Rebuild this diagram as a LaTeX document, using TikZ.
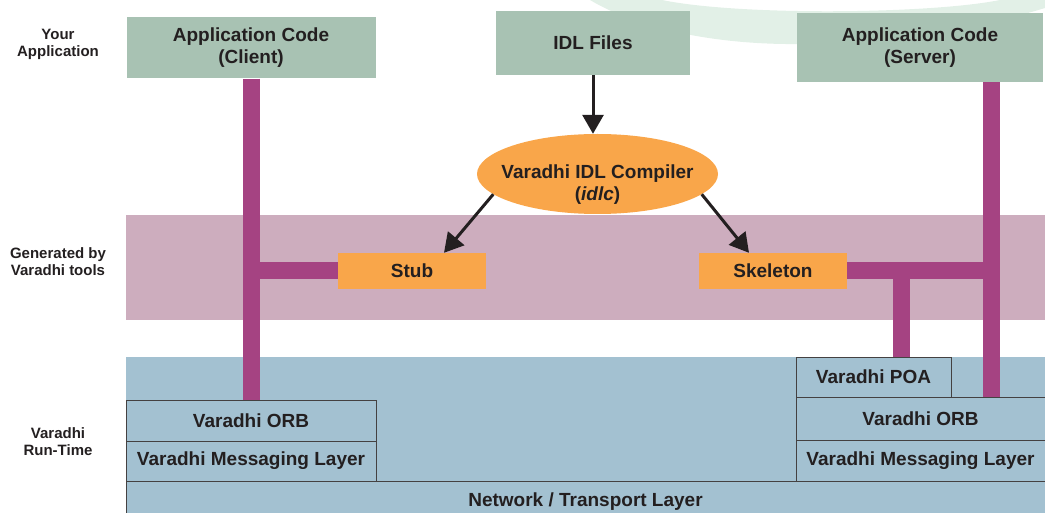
\documentclass[tikz,border=0pt]{standalone}
\usepackage{fontspec}
\setmainfont{Liberation Sans}
\usetikzlibrary{shapes.geometric,arrows.meta,positioning}

\definecolor{appgreen}{RGB}{168,194,179}
\definecolor{genorange}{RGB}{249,166,74}
\definecolor{genpink}{RGB}{205,173,190}
\definecolor{rtblue}{RGB}{163,193,209}
\definecolor{barpurple}{RGB}{165,67,130}
\definecolor{swoosh}{RGB}{226,240,231}
\definecolor{ink}{RGB}{35,31,32}

\tikzset{
 box/.style={inner sep=0pt,align=center,text=ink,font=\fontsize{19}{22}\selectfont\bfseries},
 appbox/.style={box,fill=appgreen},
 genbox/.style={box,fill=genorange},
 rtbox/.style={box,fill=rtblue,draw=ink!85,line width=1pt},
 sidelabel/.style={align=center,text=ink,font=\fontsize{15}{17}\selectfont\bfseries},
 bar/.style={draw=barpurple,line width=17pt},
 arr/.style={draw=ink,line width=3pt,-{Triangle[width=21pt,length=19pt]}}
}

\begin{document}
\begin{tikzpicture}[x=1pt,y=-1pt]
 \useasboundingbox (0,0) rectangle (1045,513);
 % background
 \fill[swoosh] (590,0) .. controls (640,30) and (720,45) .. (800,44)
  .. controls (900,43) and (990,25) .. (1045,8) -- (1045,0) -- (1000,0)
  .. controls (930,14) and (740,16) .. (662,0) -- cycle;
 \fill[genpink] (126,215) rectangle (1045,320);
 \fill[rtblue] (126,357) rectangle (1045,513);

 % side labels
 \node (lapp) at (58,44) [sidelabel] {Your\\Application};
 \node (lgen) at (58,262) [sidelabel] {Generated by\\Varadhi tools};
 \node (lrt) at (58,442) [sidelabel] {Varadhi\\Run-Time};

 % application layer
 \node (appclient) at (251,48) [appbox,minimum width=249pt,minimum height=61pt] {Application Code\\(Client)};
 \node (idl) at (593,43) [appbox,minimum width=194pt,minimum height=64pt] {IDL Files};
 \node (appserver) at (920,47.5) [appbox,minimum width=246pt,minimum height=69pt] {Application Code\\(Server)};

 % generated layer
 \node (idlc) at (597.5,174) [genbox,ellipse,inner xsep=-16pt,inner ysep=-8pt,minimum width=241pt,minimum height=80pt]
  {\rule{0pt}{34pt}Varadhi IDL Compiler\\(\textit{idlc})};
 \node (stub) at (412,271) [genbox,minimum width=148pt,minimum height=36pt] {Stub};
 \node (skeleton) at (773,271) [genbox,minimum width=148pt,minimum height=36pt] {Skeleton};

 % run-time layer
 \node (net) at (585.5,502) [rtbox,minimum width=919pt,minimum height=42pt] {Network / Transport Layer};
 \node (msgclient) at (251,461) [rtbox,minimum width=250pt,minimum height=40pt] {Varadhi Messaging Layer};
 \node (orbclient) at (251,420.5) [rtbox,minimum width=250pt,minimum height=41pt] {Varadhi ORB};
 \node (msgserver) at (920.5,460.5) [rtbox,minimum width=249pt,minimum height=41pt] {Varadhi Messaging Layer};
 \node (orbserver) at (920.5,418.5) [rtbox,minimum width=249pt,minimum height=43pt] {Varadhi ORB};
 \node (poa) at (873.5,377) [rtbox,minimum width=155pt,minimum height=40pt] {Varadhi POA};

 % bars
 \coordinate (srvx) at (991,0);
 \coordinate (poax) at (901,0);
 \draw[bar] (appclient.south) -- (orbclient.north);
 \draw[bar] (stub.west) -- (stub.west -| appclient.south);
 \draw[bar] (appserver.south -| srvx) -- (orbserver.north -| srvx);
 \draw[bar] (skeleton.east) -- (skeleton.east -| srvx);
 \draw[bar] (skeleton.east -| poax) -- (poa.north -| poax);

 % arrows
 \draw[arr] (idl.south) -- (idl.south |- idlc.north);
 \draw[arr] (idlc.191) -- ([xshift=32pt]stub.north);
 \draw[arr] (idlc.349) -- ([xshift=-24pt]skeleton.north);
\end{tikzpicture}
\end{document}
